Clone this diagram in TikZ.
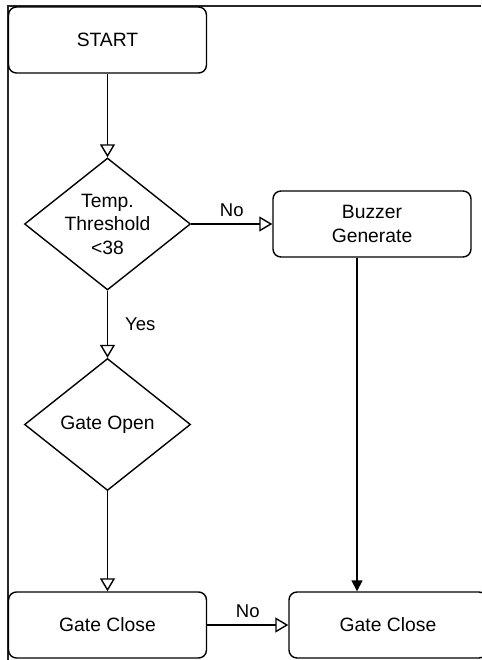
\documentclass[tikz,border=0pt]{standalone}
\usepackage{fontspec}
\setmainfont{Liberation Sans}
\usetikzlibrary{arrows.meta,shapes.geometric}
\begin{document}
\begin{tikzpicture}[x=1pt,y=-1pt,
  every node/.style={font=\fontsize{19.3}{23.5}\selectfont},
  box/.style={draw, rounded corners=8pt, line width=1.4pt, minimum width=198pt, minimum height=66pt, inner sep=0pt, align=center},
  dec/.style={draw, diamond, line width=1.4pt, minimum width=166pt, minimum height=132pt, inner sep=-15pt, align=center},
  flow/.style={line width=1.4pt, -{Triangle[open, length=13pt, width=15pt]}},
  solidflow/.style={line width=1.4pt, -{Triangle[length=11pt, width=11pt]}},
  lbl/.style={font=\fontsize{18.5}{20}\selectfont, inner sep=2pt}
]
\useasboundingbox (0,0) rectangle (481,660);
\draw[line width=2pt, black!85] (7.5,660) -- (7.5,6) -- (481,6);

\node[box] (start) at (107.5,40) {START};
\node[dec] (temp) at (107.5,224) {Temp.\\Threshold\\<38};
\node[box] (buzz) at (372,224) {Buzzer\\Generate};
\node[dec] (open) at (107.5,424.5) {Gate Open};
\node[box] (closeL) at (107.5,625) {Gate Close};
\node[box] (closeR) at (388,625) {Gate Close};

\draw[flow] (start) -- (temp);
\draw[flow] (temp.east) -- node[lbl, above=5pt] {No} (buzz.west);
\draw[flow] (temp.south) -- node[lbl, right=15pt] {Yes} (open.north);
\draw[flow] (open.south) -- (closeL.north);
\draw[flow] (closeL.east) -- node[lbl, above=5pt] {No} (closeR.west);
\draw[solidflow] ([xshift=-15pt]buzz.south) -- ([xshift=-31pt]closeR.north);
\end{tikzpicture}
\end{document}
